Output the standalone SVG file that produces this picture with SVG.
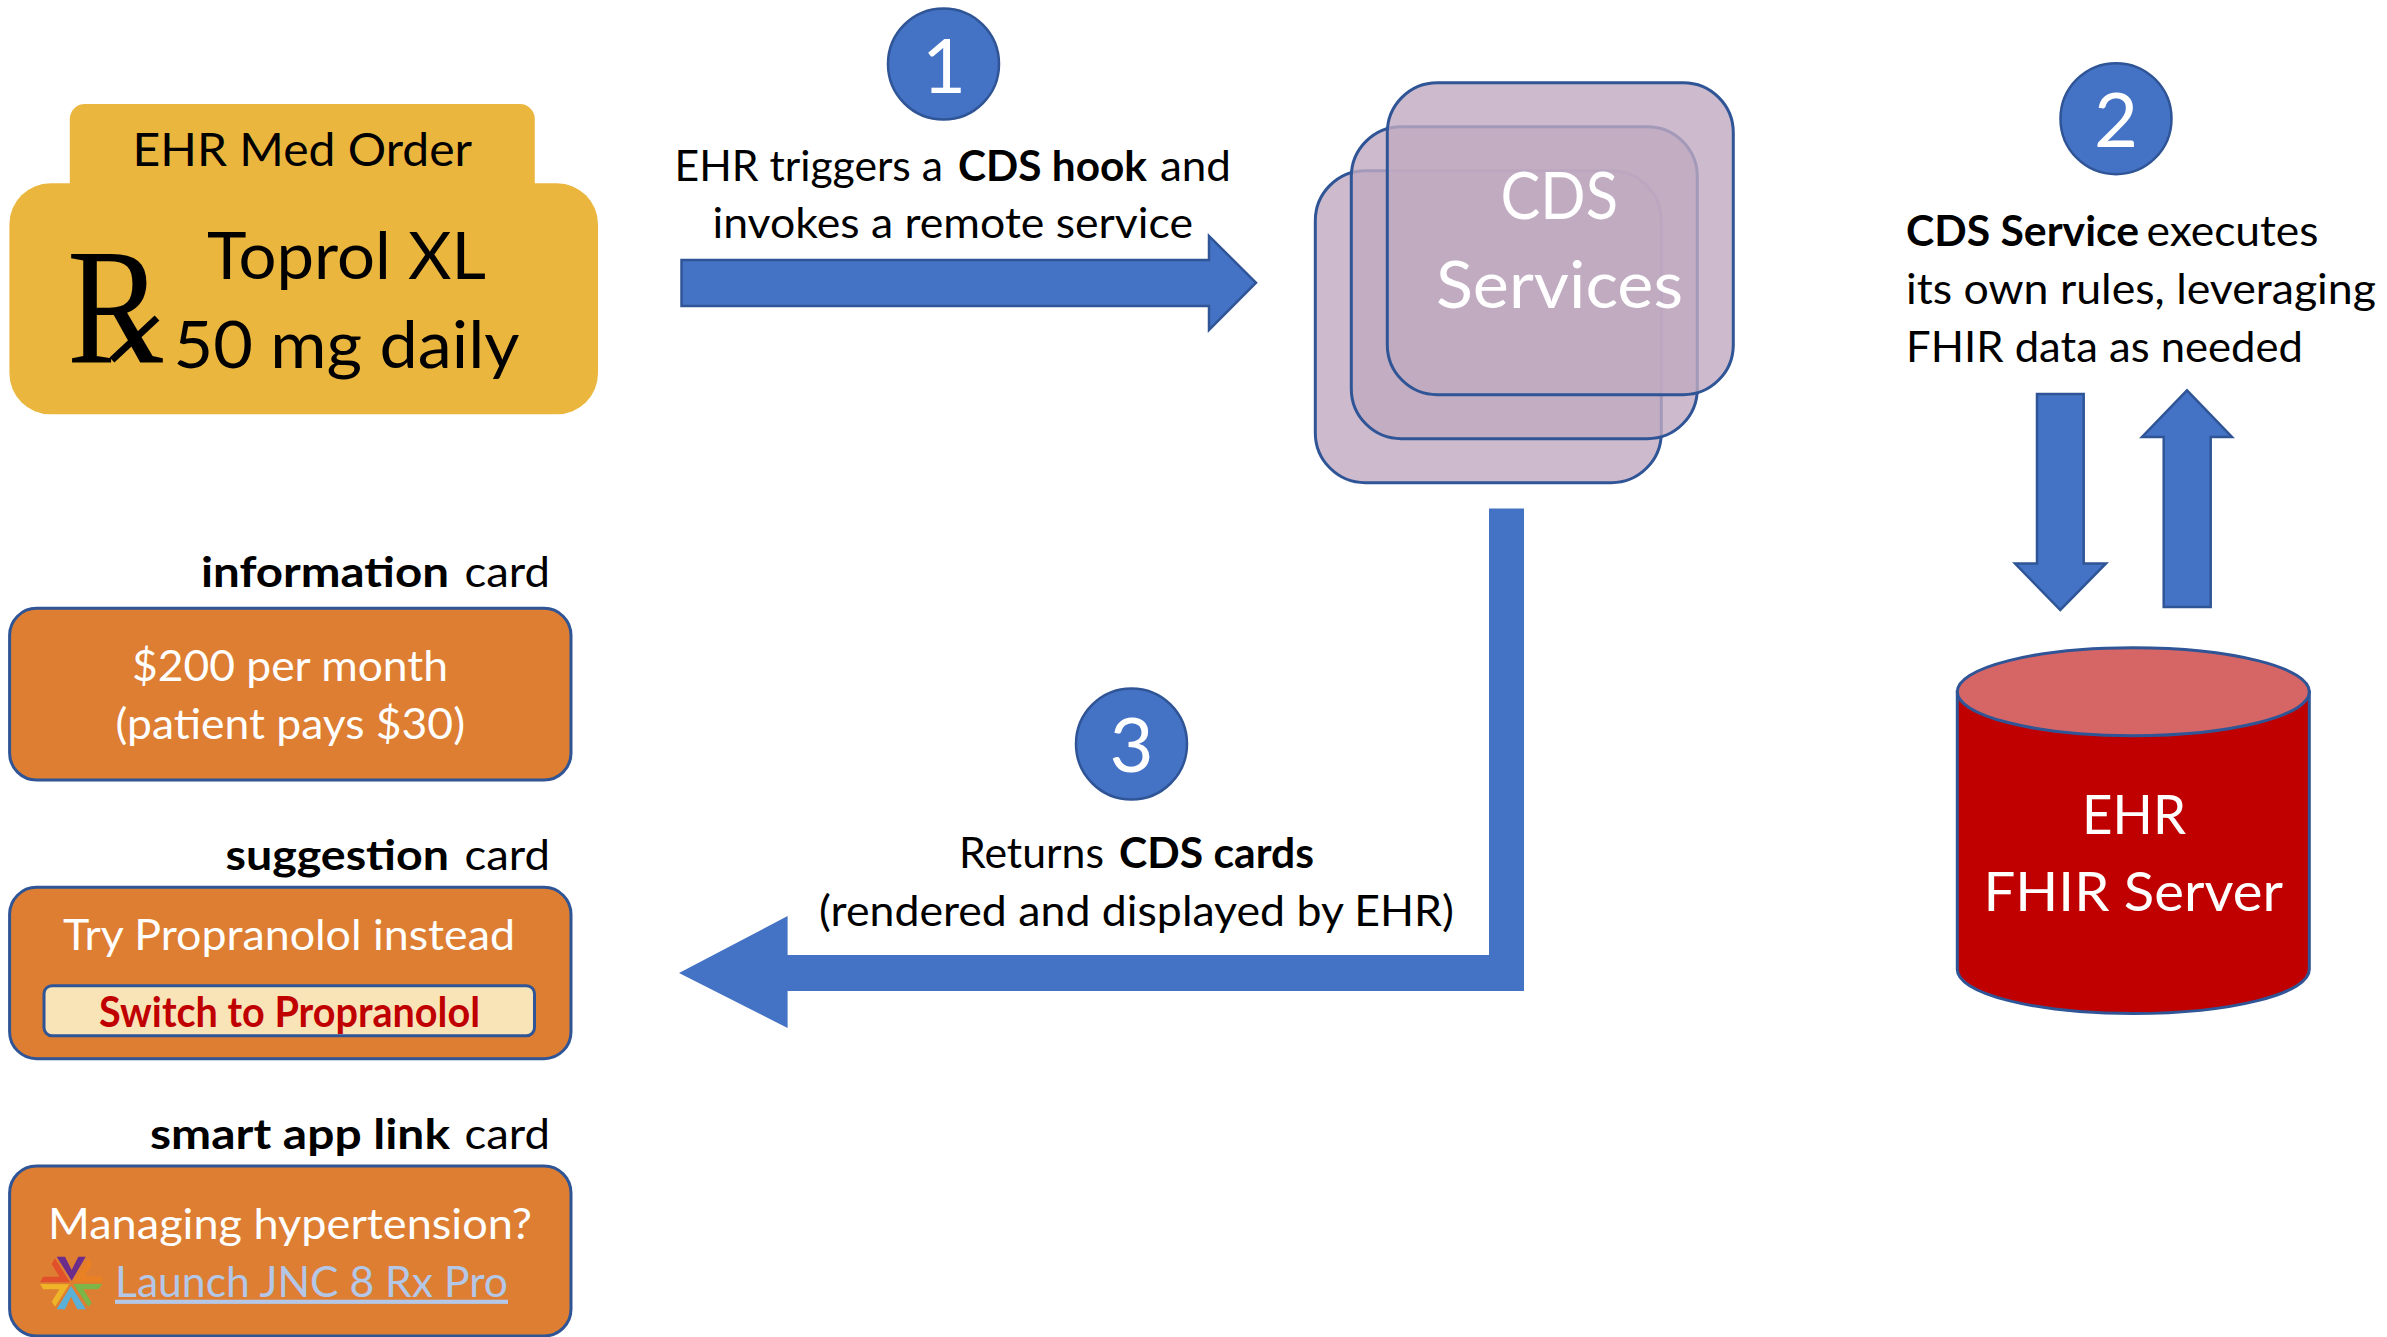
<svg xmlns="http://www.w3.org/2000/svg" width="2387" height="1337" viewBox="0 0 2387 1337">
<style>
text{font-family:"Lato","Carlito","Open Sans",sans-serif;}
.t{font-size:42px;fill:#000}
.w{font-size:42px;fill:#fff}
.b{font-weight:700}
.n{font-size:76px;fill:#fff;text-anchor:middle}
.big{font-size:65px;fill:#000}
.cds{font-size:65px;fill:#fff}
.ehr{font-size:54px;fill:#fff}
.arrow{fill:#4472C4;stroke:#2F5597;stroke-width:2.5}
.num{fill:#4472C4;stroke:#2F5597;stroke-width:2.5}
.card{fill:#DD7E32;stroke:#2F5597;stroke-width:3}
.svc{fill:#C0AAC0;fill-opacity:.8;stroke:#2F5597;stroke-width:3}
</style>
<rect width="2387" height="1337" fill="#fff"/>
<g id="connectors">
<path class="arrow" d="M681.5 260H1209V236L1256 282.7L1209 330V306H681.5Z"/>
<path class="arrow" d="M2037 394H2083.7V563.5H2106L2060.3 610L2015 563.5H2037Z"/>
<path class="arrow" d="M2163.7 607V437H2142L2187 390.4L2232 437H2210.7V607Z"/>
<path fill="#4472C4" d="M1489 508.5H1524V991H787.6V1028L679 973L787.6 916V955H1489Z"/>
</g>
<g id="ehr-med-order">
<rect x="69.8" y="104" width="465" height="110" rx="15" fill="#EBB63E"/>
<rect x="9.4" y="183.3" width="588.6" height="231" rx="41" fill="#EBB63E"/>
<text class="t" style="font-size:46px" x="132.5" y="165.7" textLength="339.5" lengthAdjust="spacingAndGlyphs">EHR Med Order</text>
<text x="67" y="363" style="font-family:'Liberation Serif',serif;font-size:166px" fill="#000" textLength="96" lengthAdjust="spacingAndGlyphs">R</text>
<path d="M112 360L157 318" stroke="#000" stroke-width="7" fill="none"/>
<text class="big" x="207" y="279" textLength="279" lengthAdjust="spacingAndGlyphs">Toprol XL</text>
<text class="big" x="173.5" y="368" textLength="346" lengthAdjust="spacingAndGlyphs">50 mg daily</text>
</g>
<g id="step-1">
<circle class="num" cx="943.5" cy="64" r="55.5"/>
<text class="n" x="944" y="92.7">1</text>
<text class="t" y="180.7"><tspan x="674.5" textLength="268.5" lengthAdjust="spacingAndGlyphs">EHR triggers a</tspan> <tspan class="b" x="958" textLength="189" lengthAdjust="spacingAndGlyphs">CDS hook</tspan> <tspan x="1160" textLength="71" lengthAdjust="spacingAndGlyphs">and</tspan></text>
<text class="t" x="712.5" y="238.2" textLength="480.5" lengthAdjust="spacingAndGlyphs">invokes a remote service</text>
</g>
<g id="cds-services">
<rect class="svc" x="1315.3" y="170.7" width="346" height="312" rx="50"/>
<rect class="svc" x="1351.3" y="126.7" width="346" height="312" rx="50"/>
<rect class="svc" x="1387.3" y="82.7" width="346" height="312" rx="50"/>
<text class="cds" x="1500.5" y="218.5" textLength="117.5" lengthAdjust="spacingAndGlyphs">CDS</text>
<text class="cds" x="1436" y="308" textLength="247" lengthAdjust="spacingAndGlyphs">Services</text>
</g>
<g id="step-2">
<circle class="num" cx="2116" cy="118.7" r="55.5"/>
<text class="n" x="2116" y="147.3">2</text>
<text class="t" y="246"><tspan class="b" x="1906" textLength="233" lengthAdjust="spacingAndGlyphs">CDS Service</tspan> <tspan x="2146.5" textLength="172" lengthAdjust="spacingAndGlyphs">executes</tspan></text>
<text class="t" x="1906" y="304" textLength="470" lengthAdjust="spacingAndGlyphs">its own rules, leveraging</text>
<text class="t" x="1906" y="362" textLength="397" lengthAdjust="spacingAndGlyphs">FHIR data as needed</text>
</g>
<g id="ehr-fhir-server">
<path d="M1957.3 691.7V969.5A176 44 0 0 0 2309.3 969.5V691.7Z" fill="#C00000" stroke="#2F5597" stroke-width="3"/>
<ellipse cx="2133.3" cy="691.7" rx="176" ry="44" fill="#D66666" stroke="#2F5597" stroke-width="3"/>
<text class="ehr" x="2082" y="834" textLength="104" lengthAdjust="spacingAndGlyphs">EHR</text>
<text class="ehr" x="1983.5" y="911" textLength="299.5" lengthAdjust="spacingAndGlyphs">FHIR Server</text>
</g>
<g id="step-3">
<circle class="num" cx="1131.5" cy="744" r="55.5"/>
<text class="n" x="1131.5" y="772">3</text>
<text class="t" y="867.5"><tspan x="959" textLength="145" lengthAdjust="spacingAndGlyphs">Returns</tspan> <tspan class="b" x="1119" textLength="195" lengthAdjust="spacingAndGlyphs">CDS cards</tspan></text>
<text class="t" x="819" y="925.5" textLength="635" lengthAdjust="spacingAndGlyphs">(rendered and displayed by EHR)</text>
</g>
<g id="information-card">
<text class="t" y="587"><tspan class="b" x="201" textLength="248" lengthAdjust="spacingAndGlyphs">information</tspan> <tspan x="464.5" textLength="85.5" lengthAdjust="spacingAndGlyphs">card</tspan></text>
<rect class="card" x="9.6" y="608.3" width="561.4" height="171.7" rx="27"/>
<text class="w" x="132" y="681" textLength="316" lengthAdjust="spacingAndGlyphs">$200 per month</text>
<text class="w" x="115.5" y="738.8" textLength="349.5" lengthAdjust="spacingAndGlyphs">(patient pays $30)</text>
</g>
<g id="suggestion-card">
<text class="t" y="869.5"><tspan class="b" x="225.5" textLength="223.5" lengthAdjust="spacingAndGlyphs">suggestion</tspan> <tspan x="464.5" textLength="85.5" lengthAdjust="spacingAndGlyphs">card</tspan></text>
<rect class="card" x="9.6" y="887.3" width="561.4" height="171.4" rx="27"/>
<text class="w" x="63" y="950" textLength="452" lengthAdjust="spacingAndGlyphs">Try Propranolol instead</text>
<rect x="44" y="985.7" width="490.5" height="50" rx="8" fill="#F9E4B7" stroke="#2F5597" stroke-width="3"/>
<text class="t b" style="fill:#C00000" x="99" y="1026.5" textLength="381" lengthAdjust="spacingAndGlyphs">Switch to Propranolol</text>
</g>
<g id="smart-app-link-card">
<text class="t" y="1149"><tspan class="b" x="150" textLength="300" lengthAdjust="spacingAndGlyphs">smart app link</tspan> <tspan x="464.5" textLength="85.5" lengthAdjust="spacingAndGlyphs">card</tspan></text>
<rect class="card" x="9.6" y="1166" width="561.4" height="170" rx="27"/>
<text class="w" x="48" y="1239" textLength="484" lengthAdjust="spacingAndGlyphs">Managing hypertension?</text>
<text class="t" style="fill:#B4C7E7;text-decoration:underline" x="115" y="1296.7" textLength="393" lengthAdjust="spacingAndGlyphs">Launch JNC 8 Rx Pro</text>
<g transform="translate(20 1250) scale(.3333)">
<path fill="#6B2C8C" d="M110 20H135L155 60L175 20H197L155 92Z"/>
<path fill="#EA8024" d="M205 25L217 42L195 78L247 80V97H160Z"/>
<path fill="#7AB648" d="M160 102H247L235 118H190L215 158L205 170Z"/>
<path fill="#5BB0D8" d="M153 108L198 178H172L153 140L135 178H110Z"/>
<path fill="#F0B429" d="M148 103L105 170L95 155L118 118H70L60 102Z"/>
<path fill="#E2502B" d="M150 97H60L70 80H118L95 42L105 25Z"/>
</g>
</g>
</svg>
